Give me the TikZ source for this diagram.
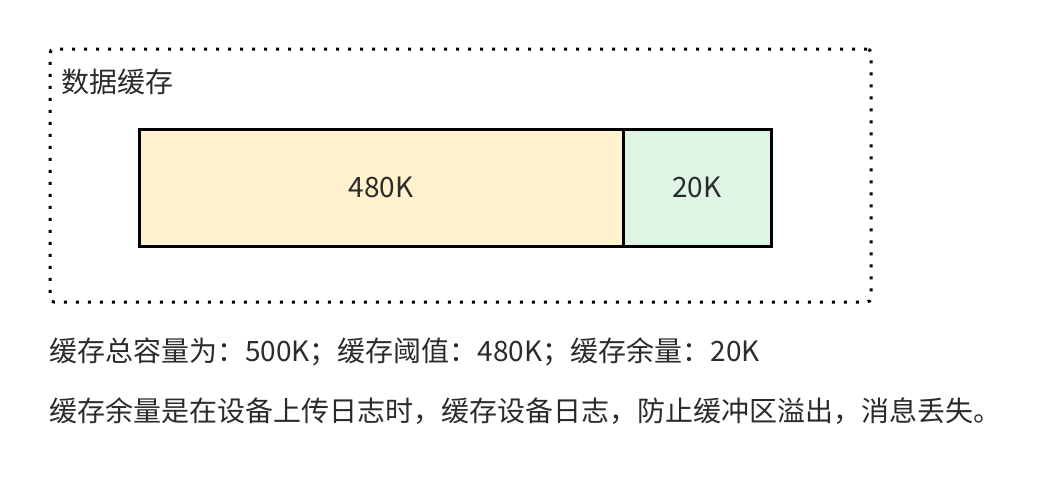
\documentclass[tikz,border=0pt]{standalone}
\usepackage{fontspec}
\setmainfont{Noto Sans CJK SC}
\definecolor{txt}{HTML}{2B2B2B}
\definecolor{yel}{HTML}{FFF2CC}
\definecolor{grn}{HTML}{DEF5E5}
\begin{document}
\begin{tikzpicture}[x=1pt,y=-1pt,
  lbl/.style={font=\fontsize{28}{32}\selectfont, text=txt, inner sep=0pt},
  cell/.style={draw=black, line width=3pt, inner sep=0pt, minimum height=117pt}]
\useasboundingbox (0,0) rectangle (1048,480);
\node[draw=black, line width=3pt, dash pattern=on 3pt off 9pt, rounded corners=4pt,
  minimum width=821pt, minimum height=253pt, inner sep=0pt] (frame) at (460.5,175.5) {};
\node[lbl, anchor=west] (title) at (61,82) {数据缓存};
\node[cell, fill=yel, minimum width=484pt] (big) at (381,187.5) {};
\node[cell, fill=grn, minimum width=148pt] (small) at (697,187.5) {};
\node[lbl] (bigt) at (big.center) {480K};
\node[lbl] (smallt) at (small.center) {20K};
\node[lbl, anchor=west] (line1) at (49,352) {缓存总容量为：500K；缓存阈值：480K；缓存余量：20K};
\node[lbl, anchor=west] (line2) at (49,411) {缓存余量是在设备上传日志时，缓存设备日志，防止缓冲区溢出，消息丢失。};
\end{tikzpicture}
\end{document}
